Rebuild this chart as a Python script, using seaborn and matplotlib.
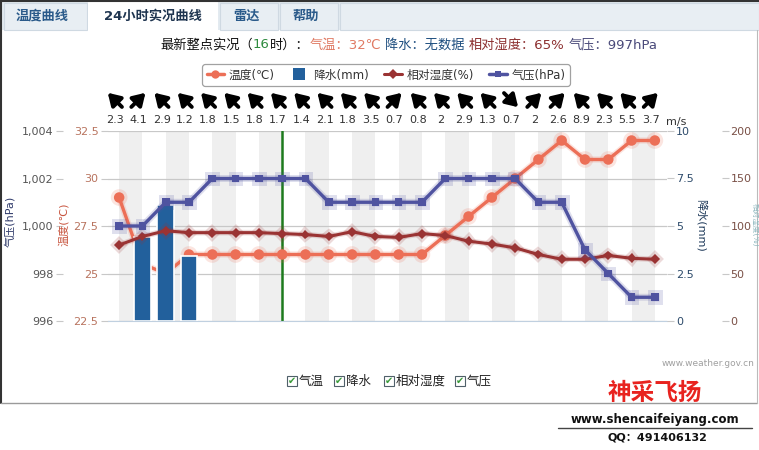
import matplotlib
matplotlib.use('Agg')
import matplotlib.pyplot as plt
import matplotlib.patheffects as pe
import matplotlib.transforms as mtransforms
from matplotlib.lines import Line2D
from matplotlib.patches import Rectangle
from matplotlib.ticker import FuncFormatter
import numpy as np
import pandas as pd
import seaborn as sns

# hourly observations, 17h yesterday .. 16h today
hours = ['17', '18', '19', '20', '21', '22', '23', '0', '1', '2', '3', '4',
         '5', '6', '7', '8', '9', '10', '11', '12', '13', '14', '15', '16']
temp = [29, 25.5, 25, 26, 26, 26, 26, 26, 26, 26, 26, 26,
        26, 26, 27, 28, 29, 30, 31, 32, 31, 31, 32, 32]
rain = [np.nan, 4.4, 6.1, 3.4] + [np.nan] * 20
humidity = [80, 89, 95, 93, 93, 93, 93, 92, 91, 89, 94, 89,
            88, 92, 90, 84, 81, 77, 70, 65, 65, 69, 66, 65]
pressure = [1000, 1000, 1001, 1001, 1002, 1002, 1002, 1002, 1002, 1001, 1001, 1001,
            1001, 1001, 1002, 1002, 1002, 1002, 1001, 1001, 999, 998, 997, 997]
wind_speed = [2.3, 4.1, 2.9, 1.2, 1.8, 1.5, 1.8, 1.7, 1.4, 2.1, 1.8, 3.5,
              0.7, 0.8, 2, 2.9, 1.3, 0.7, 2, 2.6, 8.9, 2.3, 5.5, 3.7]
wind_dir = ['NW', 'NE', 'NW', 'NW', 'NW', 'NW', 'NW', 'NW', 'NW', 'NW', 'NW', 'NW',
            'NE', 'NW', 'NW', 'NW', 'NW', 'SE', 'NE', 'NE', 'NW', 'NW', 'NW', 'NE']
today_start = hours.index('0')

temp_ticks = [22.5, 25, 27.5, 30, 32.5]
pres_ticks = [996, 998, 1000, 1002, 1004]
rain_ticks = [0, 2.5, 5, 7.5, 10]
hum_ticks = [0, 50, 100, 150, 200]

C_TEMP = '#ec6f57'
C_RAIN = '#22609c'
C_HUM = '#9a3333'
C_PRES = '#4f53a0'

W, H = 759, 450

sns.set_style('white')
plt.rcParams['font.family'] = ['DejaVu Sans', 'Noto Sans CJK SC']

df = pd.DataFrame({'pos': np.arange(len(hours)), 'hour': hours, 'temp': temp,
                   'rain': rain, 'humidity': humidity, 'pressure': pressure})


def fx(x):
    return x / W


def fy(y):
    return 1 - y / H


def halo(color, width):
    return [pe.Stroke(linewidth=width, foreground=color, alpha=0.18), pe.Normal()]


fig = plt.figure(figsize=(W / 100, H / 100), dpi=100)
fig.patch.set_facecolor('white')

# tab bar
fig.patches.append(Rectangle((0, fy(30)), 1, 30 / H, transform=fig.transFigure,
                             facecolor='#e3eaf0', edgecolor='none', zorder=0))
for x0, x1 in [(4, 87), (220, 278), (280, 338), (340, 759)]:
    fig.patches.append(Rectangle((fx(x0), fy(30)), fx(x1 - x0), 27 / H,
                                 transform=fig.transFigure, facecolor='#e8eef3',
                                 edgecolor='#cfd9e2', lw=0.8, zorder=1))
fig.patches.append(Rectangle((fx(88), fy(31)), fx(130), 29 / H, transform=fig.transFigure,
                             facecolor='white', edgecolor='none', zorder=1))
for label, xc, col in [('温度曲线', 42, '#2a5a8a'), ('24小时实况曲线', 153, '#1f3550'),
                       ('雷达', 246, '#2a5a8a'), ('帮助', 306, '#2a5a8a')]:
    fig.text(fx(xc), fy(16), label, ha='center', va='center', fontsize=9.5,
             fontweight='bold', color=col)

# outer frame
fig.add_artist(Line2D([fx(1), fx(1)], [fy(0), fy(403)], color='#333333', lw=1.5))
fig.add_artist(Line2D([0, 1], [fy(0.5), fy(0.5)], color='#333333', lw=1.5))
fig.add_artist(Line2D([fx(1), fx(757)], [fy(403), fy(403)], color='#9a9a9a', lw=1))
fig.add_artist(Line2D([fx(757), fx(757)], [fy(30), fy(403)], color='#bbbbbb', lw=0.8))

# headline with coloured segments
renderer = fig.canvas.get_renderer()
pieces = [('最新整点实况（', '#111111'), ('16', '#2e8b3e'), ('时）：', '#111111'),
          ('气温：32℃', '#e07a63'), ('降水：无数据', '#1f4f80'),
          ('相对湿度：65%', '#8c2f2f'), ('气压：997hPa', '#4a4a7a')]
x = 160
for s, c in pieces:
    t = fig.text(fx(x), fy(45), s, color=c, fontsize=9.5, ha='left', va='center')
    x += t.get_window_extent(renderer).width + (4 if s[0] in '气降相' else 0)

# main axes
ax = fig.add_axes([fx(107.5), fy(321), fx(559), 190 / H])
ax_r = ax.twinx()
ax_h = ax.twinx()
ax_p = ax.twinx()

for i in range(0, len(hours), 2):
    ax.axvspan(i, i + 1, color='#efefef', lw=0, zorder=0)
ax.axvline(today_start, color='#1d7a1d', lw=1.8, zorder=2)

sns.lineplot(data=df, x='pos', y='temp', ax=ax, color=C_TEMP, lw=2.4,
             marker='o', markersize=7.5, markeredgewidth=0, zorder=3,
             path_effects=halo(C_TEMP, 4.5))

sns.barplot(data=df, x='pos', y='rain', ax=ax_r, native_scale=True, color=C_RAIN,
            width=0.72, edgecolor='white', linewidth=1.2, saturation=1)

sns.lineplot(data=df, x='pos', y='humidity', ax=ax_h, color=C_HUM, lw=2.2,
             marker='D', markersize=5, markeredgewidth=0,
             path_effects=halo(C_HUM, 4))

sns.lineplot(data=df, x='pos', y='pressure', ax=ax_p, color=C_PRES, lw=2.4,
             marker='s', markersize=5.5, markeredgewidth=0,
             path_effects=halo(C_PRES, 5))

for a in (ax, ax_r, ax_h, ax_p):
    a.set_xlim(-0.5, len(hours) - 0.5)
    a.set_xlabel('')
    a.set_ylabel('')
    for s in a.spines.values():
        s.set_visible(False)
    a.patch.set_visible(False)

ax.set_ylim(temp_ticks[0], temp_ticks[-1])
ax.set_yticks(temp_ticks, [f'{v:g}' for v in temp_ticks])
ax.grid(axis='y', color='#c8c8c8', lw=0.9)
ax.grid(axis='x', visible=False)
ax.set_axisbelow(True)
ax.spines['bottom'].set_visible(True)
ax.spines['bottom'].set_color('#c0d0e0')
ax.set_xticks(df['pos'], hours)
ax.tick_params(axis='x', length=4, color='#c0d0e0', labelsize=8.5, pad=3)
for lbl, i in zip(ax.get_xticklabels(), range(len(hours))):
    lbl.set_color('#3d8a4a' if i >= today_start else '#999999')
ax.tick_params(axis='y', length=5, color='#c8c8c8', labelsize=8, pad=1.5,
               labelcolor='#b8735e', left=True)

ax_p.set_ylim(pres_ticks[0], pres_ticks[-1])
ax_p.set_yticks(pres_ticks)
ax_p.yaxis.set_major_formatter(FuncFormatter(lambda v, p: f'{v:,.0f}'))
ax_p.yaxis.set_ticks_position('left')
ax_p.spines['left'].set_position(('outward', 32.4))
ax_p.tick_params(axis='y', length=5, color='#c8c8c8', labelsize=8, pad=1.5,
                 labelcolor='#555555')

ax_r.set_ylim(rain_ticks[0], rain_ticks[-1])
ax_r.set_yticks(rain_ticks, [f'{v:g}' for v in rain_ticks])
ax_r.tick_params(axis='y', length=5, color='#c8c8c8', labelsize=8, pad=2,
                 labelcolor='#2c4a6a', right=True)
ax_r.set_xticks([])

ax_h.set_ylim(hum_ticks[0], hum_ticks[-1])
ax_h.set_yticks(hum_ticks)
ax_h.spines['right'].set_position(('outward', 39.6))
ax_h.tick_params(axis='y', length=5, color='#c8c8c8', labelsize=8, pad=1.5,
                 labelcolor='#7a5046', right=True)
for a in (ax_r, ax_h, ax_p):
    a.grid(False)
    a.tick_params(axis='x', bottom=False, labelbottom=False)

# axis titles
fig.text(fx(10), fy(221), '气压(hPa)', rotation=90, ha='center', va='center',
         fontsize=8, color='#2f3a6a')
fig.text(fx(64), fy(224), '温度(℃)', rotation=90, ha='center', va='center',
         fontsize=8, color='#c8553f')
fig.text(fx(701), fy(225), '降水(mm)', rotation=270, ha='center', va='center',
         fontsize=8, color='#1f3a5a')
fig.text(fx(755), fy(225), '相对湿度(%)', rotation=270, ha='center', va='center',
         fontsize=5.5, color='#8fb8bf')

# wind arrows and speeds above the plot
blend = mtransforms.blended_transform_factory(ax.transData, ax.transAxes)
wind_y = (321 - 100) / 190
speed_y = (321 - 120) / 190
dir_vec = {'NW': (-1, 1), 'NE': (1, 1), 'SE': (1, -1), 'SW': (-1, -1)}
for i, (d, v) in enumerate(zip(wind_dir, wind_speed)):
    ux, uy = dir_vec[d]
    head = mtransforms.offset_copy(blend, fig, x=-3 + 5.2 * ux, y=5.2 * uy, units='points')
    tail = mtransforms.offset_copy(blend, fig, x=-3 - 5.0 * ux, y=-5.0 * uy, units='points')
    ax.annotate('', xy=(i, wind_y), xycoords=head, xytext=(i, wind_y), textcoords=tail,
                arrowprops=dict(arrowstyle='-|>,head_width=0.34,head_length=0.55',
                                lw=2.8, color='black', mutation_scale=13,
                                shrinkA=0, shrinkB=0),
                annotation_clip=False)
    ax.text(i, speed_y, f'{v:g}', transform=mtransforms.offset_copy(blend, fig, x=-3, y=0, units='points'),
            ha='center', va='center', fontsize=8, color='#333333', clip_on=False)
fig.text(fx(666), fy(122), 'm/s', ha='left', va='center', fontsize=8, color='#333333')

# legend
handles = [
    Line2D([], [], color=C_TEMP, lw=2.5, marker='o', markersize=6, markeredgewidth=0),
    Line2D([], [], color=C_RAIN, lw=0, marker='s', markersize=9, markeredgewidth=0),
    Line2D([], [], color=C_HUM, lw=2.2, marker='D', markersize=5, markeredgewidth=0),
    Line2D([], [], color=C_PRES, lw=2.5, marker='s', markersize=5, markeredgewidth=0),
]
leg = fig.legend(handles, ['温度(℃)', '降水(mm)', '相对湿度(%)', '气压(hPa)'],
                 loc='center', bbox_to_anchor=(fx(386), fy(75)), ncol=4, fontsize=8.5,
                 frameon=True, fancybox=True, handlelength=1.5, handletextpad=0.4,
                 columnspacing=1.3, borderpad=0.35, edgecolor='#8a8a8a')
leg.get_frame().set_linewidth(0.9)
for t in leg.get_texts():
    t.set_color('#333333')

# series toggles
for xb, label in [(287, '气温'), (334, '降水'), (384, '相对湿度'), (455, '气压')]:
    fig.patches.append(Rectangle((fx(xb), fy(386)), fx(10), 10 / H, transform=fig.transFigure,
                                 facecolor='white', edgecolor='#50606a', lw=0.8))
    fig.text(fx(xb + 5), fy(381), '✔', ha='center', va='center', fontsize=7,
             color='#3a9a3a')
    fig.text(fx(xb + 12), fy(381), label, ha='left', va='center', fontsize=9, color='#222222')

fig.text(fx(755), fy(364), 'www.weather.gov.cn', ha='right', va='center', fontsize=6.5,
         color='#a0a0a0')

# watermark
fig.text(fx(655), fy(393), '神采飞扬', ha='center', va='center', fontsize=17,
         fontweight='heavy', color='#e8231f')
fig.text(fx(655), fy(419), 'www.shencaifeiyang.com', ha='center', va='center',
         fontsize=8.5, fontweight='bold', color='#111111')
fig.add_artist(Line2D([fx(558), fx(752)], [fy(428), fy(428)], color='#444444', lw=1))
fig.text(fx(657), fy(438), 'QQ：491406132', ha='center', va='center', fontsize=8,
         fontweight='bold', color='#111111')

fig.savefig('out.png', dpi=100)
